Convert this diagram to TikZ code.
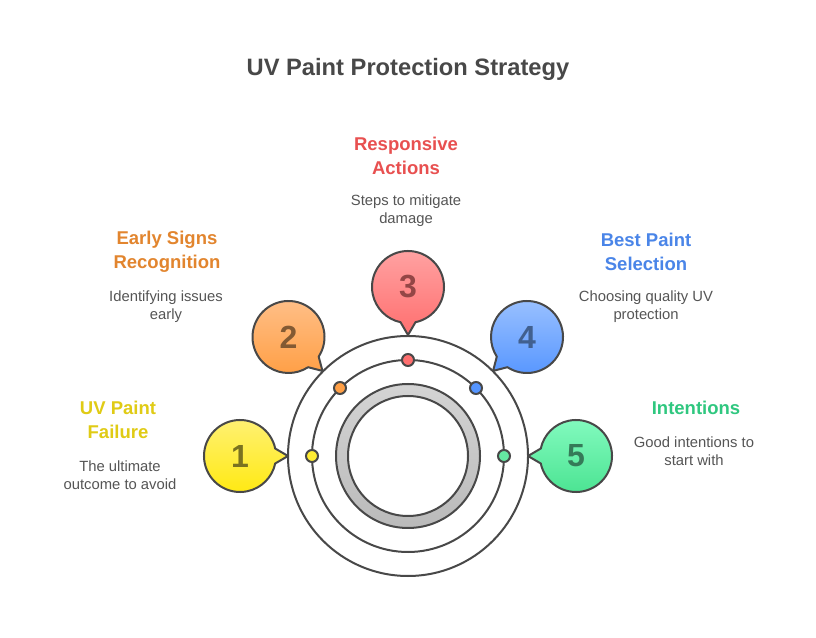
\documentclass[tikz,border=0pt]{standalone}
\usepackage{fontspec}
\setmainfont{Liberation Sans}
\usetikzlibrary{calc}
\definecolor{ink}{HTML}{484848}
\definecolor{bodyc}{HTML}{555555}
\definecolor{hA}{HTML}{E0CB15}
\definecolor{hB}{HTML}{E2852E}
\definecolor{hC}{HTML}{E85050}
\definecolor{hD}{HTML}{4A85E8}
\definecolor{hE}{HTML}{2FC77F}
\definecolor{topA}{HTML}{FFF176}
\definecolor{botA}{HTML}{FFE90F}
\definecolor{topB}{HTML}{FFC08A}
\definecolor{botB}{HTML}{FF9F45}
\definecolor{topC}{HTML}{FFA3A3}
\definecolor{botC}{HTML}{FF6F6F}
\definecolor{topD}{HTML}{9CC2FF}
\definecolor{botD}{HTML}{5595FF}
\definecolor{topE}{HTML}{84FBC0}
\definecolor{botE}{HTML}{4AE391}
\definecolor{digA}{HTML}{7A7220}
\definecolor{digB}{HTML}{835A33}
\definecolor{digC}{HTML}{944646}
\definecolor{digD}{HTML}{41608F}
\definecolor{digE}{HTML}{357A58}
\tikzset{
  x=1pt,y=1pt,
  ringline/.style={draw=ink,line width=2pt},
  dotmark/.style={circle,draw=ink,line width=2pt,minimum size=12pt,inner sep=0pt},
  digit/.style={font=\fontsize{32}{32}\selectfont\bfseries,inner sep=0pt},
  titletext/.style={font=\fontsize{23.7}{28}\selectfont\bfseries,text=ink,inner sep=0pt},
  headtext/.style={font=\fontsize{18.5}{24}\selectfont\bfseries,align=center,inner sep=0pt},
  bodytext/.style={font=\fontsize{14.8}{18}\selectfont,text=bodyc,align=center,inner sep=0pt},
}
% #1 name, #2 x, #3 y (from the top), #4 tail angle, #5 top colour, #6 bottom colour, #7 digit, #8 digit colour
\newcommand{\speechbubble}[8]{%
  \coordinate (#1c) at (#2,637-#3);
  \shade[ringline,line join=round,top color=#5,bottom color=#6]
    ($(#1c)+(#4+12:36)$) arc[start angle=#4+12,end angle=#4+348,radius=36]
    .. controls ($(#1c)+(#4-5:41)$) .. ($(#1c)+(#4:48)$)
    .. controls ($(#1c)+(#4+5:41)$) .. cycle;
  \node[digit,text=#8] (#1) at (#1c) {#7};
}
\begin{document}
\begin{tikzpicture}
\fill[white] (0,0) rectangle (816,637);
\useasboundingbox (0,0) rectangle (816,637);
\coordinate (hub) at (408,181);
\draw[ringline] (hub) circle[radius=120];
\draw[ringline] (hub) circle[radius=96];
\shade[ringline,top color=black!17,bottom color=black!27] (hub) circle[radius=72];
\draw[ringline,fill=white] (hub) circle[radius=60];

\speechbubble{one}{240}{456}{0}{topA}{botA}{1}{digA}
\speechbubble{two}{288.5}{337}{-45}{topB}{botB}{2}{digB}
\speechbubble{three}{408}{287}{-90}{topC}{botC}{3}{digC}
\speechbubble{four}{527}{337}{-135}{topD}{botD}{4}{digD}
\speechbubble{five}{576}{456}{180}{topE}{botE}{5}{digE}

\node[dotmark,fill=botA!85!white] (d1) at (312,181) {};
\node[dotmark,fill=botB] (d2) at (340,249) {};
\node[dotmark,fill=botC] (d3) at (408,277) {};
\node[dotmark,fill=botD] (d4) at (476,249) {};
\node[dotmark,fill=botE!85!white] (d5) at (504,181) {};

\node[titletext] (title) at (408,568) {UV Paint Protection Strategy};

\node[headtext,text=hA] (h1) at (118,217) {UV Paint\\Failure};
\node[bodytext] (b1) at (120,162) {The ultimate\\outcome to avoid};
\node[headtext,text=hB] (h2) at (167,385) {Early Signs\\Recognition};
\node[bodytext] (b2) at (166,330) {Identifying issues\\early};
\node[headtext,text=hC] (h3) at (406,481) {Responsive\\Actions};
\node[bodytext] (b3) at (406,426) {Steps to mitigate\\damage};
\node[headtext,text=hD] (h4) at (646,385) {Best Paint\\Selection};
\node[bodytext] (b4) at (646,330) {Choosing quality UV\\protection};
\node[headtext,text=hE] (h5) at (696,229.5) {Intentions};
\node[bodytext] (b5) at (694,186) {Good intentions to\\start with};
\end{tikzpicture}
\end{document}
